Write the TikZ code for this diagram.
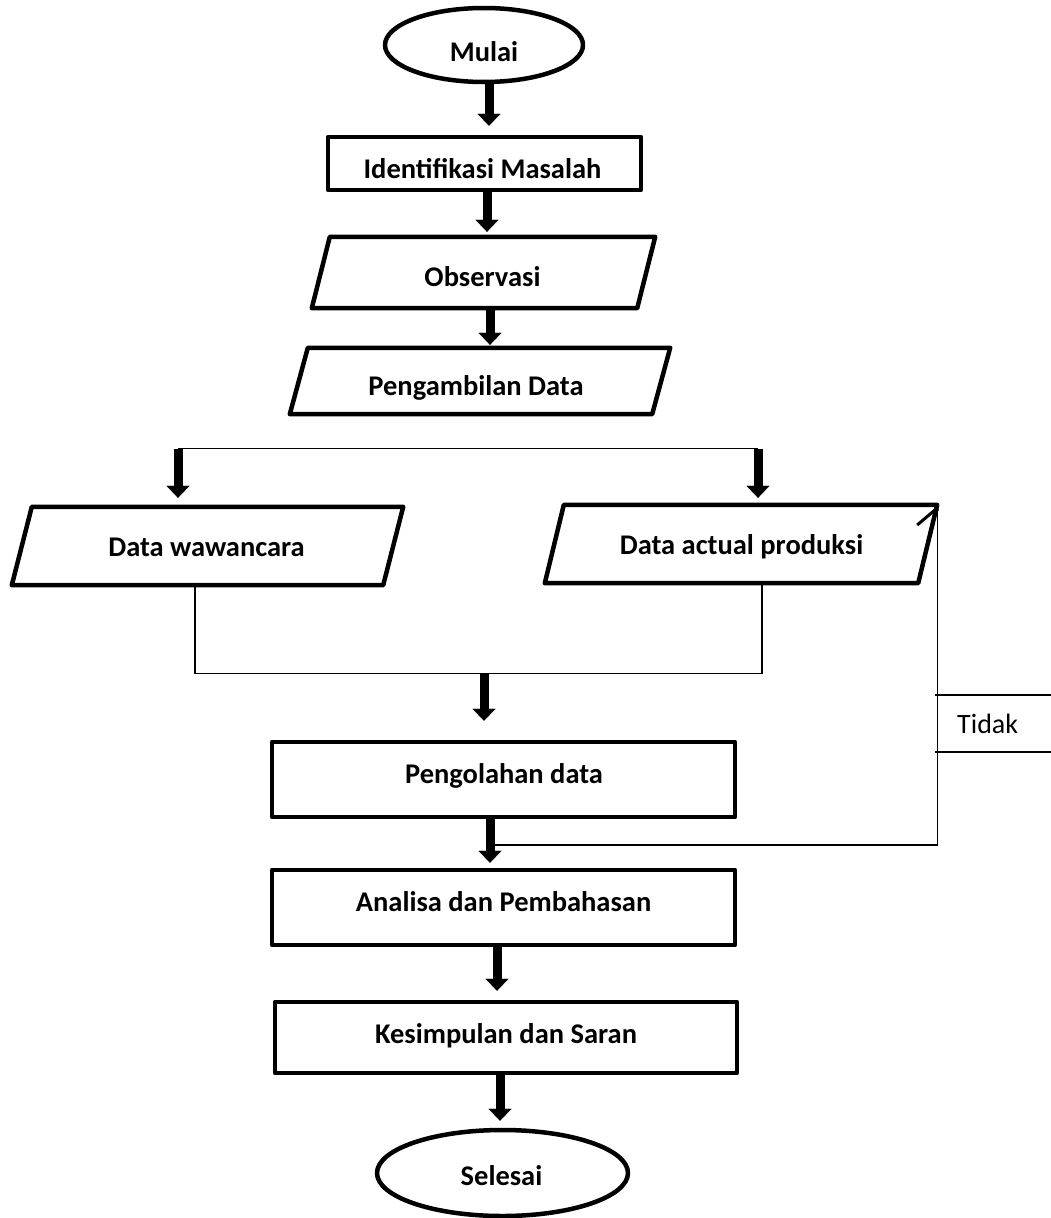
\documentclass[tikz,border=0pt]{standalone}
\usepackage{fontspec}
\setmainfont{Carlito}
\usetikzlibrary{arrows.meta,shapes.geometric,calc}
\newcommand\paradraw[2]{%
  \draw[shapeline] (#1.south west) -- ($(#1.north west)+(#2,0)$) -- (#1.north east) -- ($(#1.south east)+(-#2,0)$) -- cycle;}
\begin{document}
\begin{tikzpicture}[x=1pt,y=-1pt,
  shapeline/.style={line width=4.5pt, line join=round},
  box/.style={draw, shapeline, rectangle, inner sep=0pt},
  oval/.style={draw, shapeline, ellipse, inner sep=0pt},
  holder/.style={draw=none, rectangle, inner sep=0pt},
  lbl/.style={inner sep=0pt, font=\fontsize{28.5}{34}\selectfont\bfseries, text height=18.4pt, text depth=0pt},
  lblr/.style={inner sep=0pt, font=\fontsize{28}{34}\selectfont, text height=18pt, text depth=0pt},
  bigarrow/.style={line width=9pt, -{Triangle[length=12pt, width=23pt, line width=0.01pt]}},
  thinline/.style={line width=1.3pt},
]
\useasboundingbox (0,0) rectangle (1051,1218);

% shapes
\node[oval, minimum width=198pt, minimum height=74pt] (mulai) at (484,45) {};
\node[box, minimum width=313pt, minimum height=53pt] (ident) at (484.5,163.5) {};
\node[holder, minimum width=343pt, minimum height=71pt] (obs) at (483.5,272.5) {};
\paradraw{obs}{18}
\node[holder, minimum width=380pt, minimum height=66pt] (peng) at (480,381) {};
\paradraw{peng}{18}
\node[holder, minimum width=391pt, minimum height=78pt] (dw) at (207.5,546) {};
\paradraw{dw}{20}
\node[holder, minimum width=392pt, minimum height=78pt] (da) at (741,544) {};
\paradraw{da}{19}
\node[box, minimum width=463pt, minimum height=75pt] (olah) at (503.5,779.5) {};
\node[box, minimum width=463pt, minimum height=75pt] (ana) at (503.5,907.5) {};
\node[box, minimum width=462pt, minimum height=71pt] (kes) at (506,1037.5) {};
\node[oval, minimum width=251pt, minimum height=86pt] (sel) at (502.5,1173) {};

% texts
\node[lbl] (tmulai) at (484,52.5) {Mulai};
\node[lbl] (tident) at (482.5,169) {Identifikasi Masalah};
\node[lbl] (tobs) at (482.5,277) {Observasi};
\node[lbl] (tpeng) at (476,386) {Pengambilan Data};
\node[lbl] (tdw) at (206.5,547) {Data wawancara};
\node[lbl] (tda) at (741.5,545.5) {Data actual produksi};
\node[lbl] (tolah) at (504,774) {Pengolahan data};
\node[lbl] (tana) at (503.5,902) {Analisa dan Pembahasan};
\node[lbl] (tkes) at (506,1034.5) {Kesimpulan dan Saran};
\node[lbl] (tsel) at (501.5,1176) {Selesai};
\node[lblr, anchor=west] (ttidak) at (957,724) {Tidak};

% columns / junctions
\coordinate (c1) at (489,0);
\coordinate (c2) at (487,0);
\coordinate (c3) at (490,0);
\coordinate (bl) at (178,448.5);
\coordinate (br) at (758,448.5);
\coordinate (mj) at (484,673.5);
\coordinate (c7) at (490,0);
\coordinate (c8) at (497,0);
\coordinate (c9) at (500,0);
\coordinate (lp) at (493,845);
\coordinate (ta) at (935,695);
\coordinate (tb) at (1051,695);
\coordinate (tc) at (935,752);
\coordinate (td) at (1051,752);

% thick arrows
\draw[bigarrow, shorten >=9pt] (mulai.south -| c1) -- (ident.north -| c1);
\draw[bigarrow, shorten >=5pt] (ident.south -| c2) -- (obs.north -| c2);
\draw[bigarrow, shorten >=3pt] (obs.south -| c3) -- (peng.north -| c3);
\draw[bigarrow, shorten >=9pt] (bl) -- (dw.north -| bl);
\draw[bigarrow, shorten >=7pt] (br) -- (da.north -| br);
\draw[bigarrow, shorten >=19pt] (mj) -- (olah.north -| mj);
\draw[bigarrow, shorten >=5pt] (olah.south -| c7) -- (ana.north -| c7);
\draw[bigarrow, shorten >=9pt] (ana.south -| c8) -- (kes.north -| c8);
\draw[bigarrow, shorten >=7pt] (kes.south -| c9) -- (sel.north -| c9);

% thin connectors
\draw[thinline] (bl) -- (br);
\draw[thinline] ($(dw.south)+(-12.5,0)$) |- (mj) -| ($(da.south)+(21,0)$);
\draw[thinline, -{Straight Barb[harpoon, length=17pt, width=40pt, line width=3pt]}] (lp) -| (da.north east);
\draw[thinline] (ta) -- (tb);
\draw[thinline] (tc) -- (td);
\end{tikzpicture}
\end{document}
